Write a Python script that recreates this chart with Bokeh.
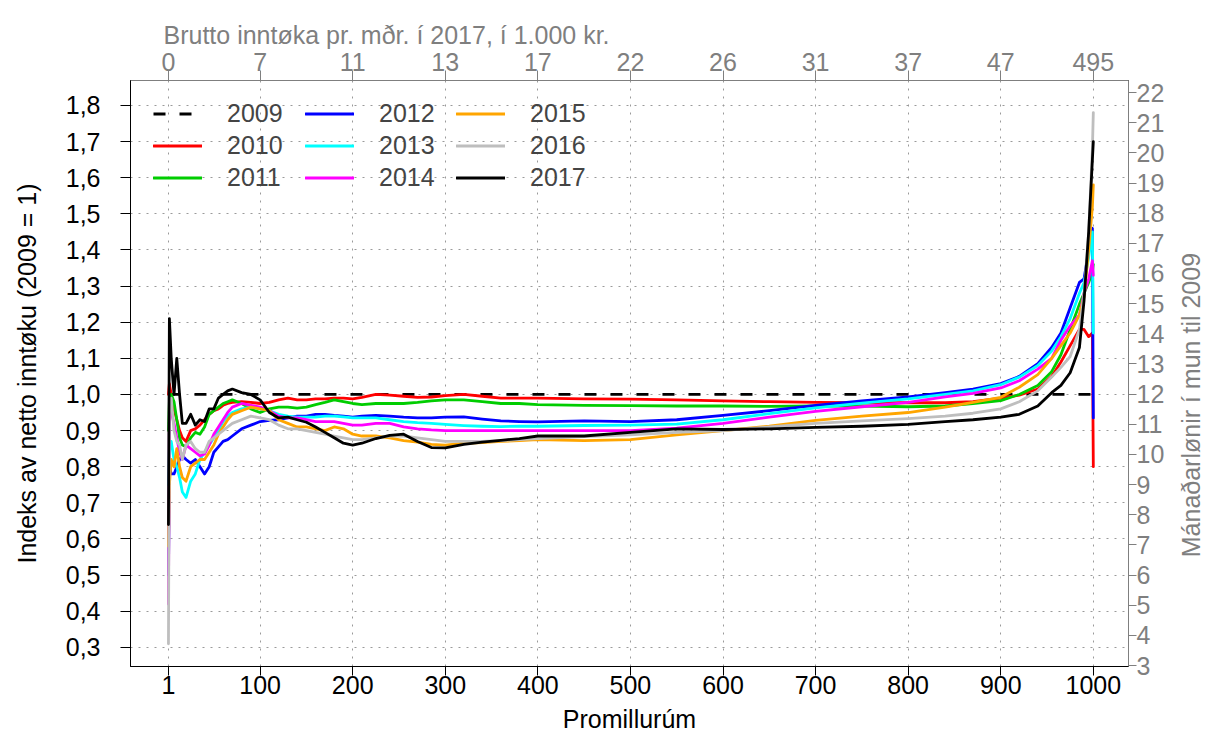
import math
from bokeh.plotting import figure
from bokeh.layouts import row
from bokeh.models import Range1d, LinearAxis, FixedTicker, Legend, LegendItem
from bokeh.embed import file_html
from bokeh.resources import INLINE

# ---------------- data ----------------
promille = [1, 2, 4, 7, 10, 13, 16, 20, 25, 30, 35, 40, 45, 50, 55, 60, 65, 70, 80, 90,
            100, 110, 120, 130, 140, 150, 160, 170, 180, 190, 200, 210, 225, 240, 255,
            270, 285, 300, 320, 340, 360, 380, 400, 450, 500, 550, 600, 650, 700, 750,
            800, 840, 870, 900, 920, 940, 955, 965, 975, 985, 990, 995, 999, 1000]

x2009 = [1, 1000]
y2009 = [1.0, 1.0]

y2010 = [1.0, 1.03, 1.0, 0.96, 0.93, 0.9, 0.88, 0.87, 0.9, 0.905,
         0.915, 0.93, 0.945, 0.955, 0.96, 0.97, 0.975, 0.978, 0.98, 0.978,
         0.975, 0.978, 0.985, 0.99, 0.985, 0.985, 0.988, 0.988, 0.99, 0.99,
         0.988, 0.992, 1.0, 0.998, 0.995, 0.992, 0.993, 0.997, 1.0, 0.995,
         0.99, 0.99, 0.99, 0.988, 0.987, 0.985, 0.982, 0.98, 0.978, 0.977,
         0.977, 0.977, 0.98, 0.99, 0.998, 1.015, 1.05, 1.09, 1.135, 1.18,
         1.18, 1.16, 1.17, 0.80]

y2011 = [0.9, 0.98, 1.0, 0.98, 0.93, 0.88, 0.86, 0.855, 0.88, 0.895,
         0.89, 0.91, 0.945, 0.955, 0.965, 0.975, 0.98, 0.985, 0.975, 0.96,
         0.95, 0.96, 0.965, 0.965, 0.962, 0.965, 0.972, 0.978, 0.985, 0.98,
         0.975, 0.972, 0.975, 0.975, 0.975, 0.978, 0.982, 0.985, 0.985, 0.98,
         0.975, 0.975, 0.972, 0.97, 0.969, 0.968, 0.968, 0.967, 0.968, 0.968,
         0.966, 0.968, 0.975, 0.983, 1.0, 1.025, 1.063, 1.11, 1.18, 1.25,
         1.28, 1.31, 1.34, 1.36]

y2012 = [0.50, 0.80, 0.78, 0.78, 0.80, 0.82, 0.83, 0.82, 0.81, 0.82,
         0.80, 0.78, 0.80, 0.84, 0.855, 0.87, 0.875, 0.885, 0.905, 0.915,
         0.925, 0.928, 0.93, 0.935, 0.94, 0.94, 0.945, 0.945, 0.942, 0.94,
         0.937, 0.94, 0.942, 0.94, 0.937, 0.935, 0.935, 0.937, 0.938, 0.932,
         0.927, 0.925, 0.924, 0.927, 0.925, 0.93, 0.942, 0.955, 0.97, 0.982,
         0.993, 1.005, 1.015, 1.03, 1.05, 1.085, 1.13, 1.17, 1.24, 1.31,
         1.32, 1.40, 1.46, 0.935]

y2013 = [0.75, 0.85, 0.87, 0.82, 0.80, 0.77, 0.73, 0.715, 0.76, 0.78,
         0.82, 0.84, 0.86, 0.88, 0.90, 0.925, 0.94, 0.95, 0.96, 0.965,
         0.96, 0.955, 0.945, 0.94, 0.937, 0.937, 0.937, 0.94, 0.94, 0.938,
         0.935, 0.935, 0.935, 0.93, 0.925, 0.922, 0.92, 0.917, 0.914, 0.912,
         0.911, 0.912, 0.912, 0.914, 0.915, 0.918, 0.93, 0.947, 0.963, 0.976,
         0.988, 1.0, 1.01, 1.027, 1.048, 1.08, 1.12, 1.16, 1.21, 1.28,
         1.31, 1.38, 1.45, 1.17]

y2014 = [0.42, 0.94, 0.95, 0.92, 0.88, 0.84, 0.82, 0.86, 0.85, 0.84,
         0.83, 0.835, 0.86, 0.89, 0.91, 0.93, 0.95, 0.965, 0.975, 0.97,
         0.965, 0.955, 0.94, 0.935, 0.935, 0.93, 0.925, 0.925, 0.925, 0.92,
         0.915, 0.915, 0.92, 0.92, 0.91, 0.905, 0.902, 0.9, 0.9, 0.9,
         0.9, 0.9, 0.9, 0.9, 0.9, 0.907, 0.92, 0.937, 0.953, 0.966,
         0.978, 0.993, 1.003, 1.018, 1.038, 1.07, 1.10, 1.15, 1.19, 1.22,
         1.28, 1.32, 1.37, 1.33]

y2015 = [0.58, 0.75, 0.82, 0.80, 0.85, 0.80, 0.77, 0.76, 0.80, 0.81,
         0.82, 0.82, 0.84, 0.86, 0.89, 0.91, 0.93, 0.945, 0.955, 0.965,
         0.96, 0.955, 0.93, 0.92, 0.91, 0.91, 0.905, 0.90, 0.91, 0.905,
         0.89, 0.885, 0.885, 0.88, 0.872, 0.868, 0.862, 0.86, 0.865, 0.867,
         0.87, 0.872, 0.875, 0.872, 0.875, 0.888, 0.90, 0.912, 0.928, 0.94,
         0.95, 0.965, 0.978, 0.992, 1.02, 1.055, 1.10, 1.135, 1.17, 1.22,
         1.27, 1.40, 1.52, 1.58]

y2016 = [0.31, 0.95, 0.99, 0.90, 0.87, 0.86, 0.82, 0.86, 0.87, 0.85,
         0.84, 0.84, 0.87, 0.88, 0.89, 0.90, 0.91, 0.92, 0.93, 0.94,
         0.935, 0.93, 0.915, 0.905, 0.905, 0.90, 0.895, 0.89, 0.885, 0.88,
         0.875, 0.875, 0.88, 0.885, 0.885, 0.88, 0.875, 0.87, 0.87, 0.87,
         0.872, 0.875, 0.878, 0.883, 0.888, 0.895, 0.90, 0.91, 0.92, 0.927,
         0.933, 0.94, 0.948, 0.96, 0.98, 1.01, 1.048, 1.075, 1.105, 1.18,
         1.28, 1.45, 1.68, 1.78]

y2017 = [0.64, 1.21, 1.10, 1.00, 1.10, 1.00, 0.92, 0.92, 0.945, 0.915,
         0.93, 0.925, 0.96, 0.96, 0.99, 1.0, 1.01, 1.015, 1.005, 1.0,
         0.985, 0.95, 0.935, 0.937, 0.93, 0.923, 0.91, 0.895, 0.88, 0.865,
         0.86, 0.865, 0.878, 0.887, 0.89, 0.87, 0.853, 0.852, 0.862, 0.868,
         0.873, 0.878, 0.885, 0.885, 0.895, 0.905, 0.903, 0.905, 0.909, 0.912,
         0.917, 0.925, 0.93, 0.937, 0.945, 0.968, 1.005, 1.025, 1.06, 1.13,
         1.26, 1.45, 1.65, 1.70]

series_names = ["2010", "2011", "2012", "2013", "2014", "2015", "2016", "2017"]
series_values = [y2010, y2011, y2012, y2013, y2014, y2015, y2016, y2017]
series_colors = ["#FF0000", "#00CD00", "#0000FF", "#00FFFF", "#FF00FF",
                 "#FFA500", "#BEBEBE", "#000000"]

x_ticks = [1, 100, 200, 300, 400, 500, 600, 700, 800, 900, 1000]
x_tick_labels = ["1", "100", "200", "300", "400", "500", "600", "700", "800", "900", "1000"]
top_tick_labels = ["0", "7", "11", "13", "17", "22", "26", "31", "37", "47", "495"]
y_ticks = [0.3, 0.4, 0.5, 0.6, 0.7, 0.8, 0.9, 1.0, 1.1, 1.2, 1.3, 1.4, 1.5, 1.6, 1.7, 1.8]
y_tick_labels = ["0,3", "0,4", "0,5", "0,6", "0,7", "0,8", "0,9", "1,0", "1,1", "1,2",
                 "1,3", "1,4", "1,5", "1,6", "1,7", "1,8"]
right_ticks = [3, 4, 5, 6, 7, 8, 9, 10, 11, 12, 13, 14, 15, 16, 17, 18, 19, 20, 21, 22]
right_title = "Mánaðarlønir í mun til 2009"

# ---------------- figure ----------------
FONT = "Liberation Sans"
FS = "25px"
GRAY = "#7F7F7F"

p = figure(width=1175, height=742, output_backend="svg", toolbar_location=None,
           x_range=Range1d(-40, 1038), y_range=Range1d(0.247, 1.869),
           min_border_left=130, min_border_right=47, min_border_top=80,
           min_border_bottom=76, background_fill_color="white",
           border_fill_color="white")
p.outline_line_color = "black"
p.outline_line_width = 1

p.extra_y_ranges = {"right": Range1d(2.967, 22.40)}

xa = p.below[0]
ya = p.left[0]
xa.ticker = FixedTicker(ticks=x_ticks)
xa.major_label_overrides = dict(zip(x_ticks, x_tick_labels))
ya.ticker = FixedTicker(ticks=y_ticks)
ya.major_label_overrides = dict(zip(y_ticks, y_tick_labels))

for ax in (xa, ya):
    ax.major_label_text_font = FONT
    ax.major_label_text_font_size = FS
    ax.major_label_text_color = "black"
    ax.axis_label_text_font = FONT
    ax.axis_label_text_font_size = FS
    ax.axis_label_text_font_style = "normal"
    ax.axis_label_text_color = "black"
    ax.major_tick_out = 10
    ax.major_tick_in = 0
    ax.minor_tick_line_color = None
    ax.axis_line_color = "black"
    ax.major_tick_line_color = "black"

xa.axis_label = "Promillurúm"
xa.major_tick_out = 9
xa.major_label_standoff = 0
xa.axis_label_standoff = 8
ya.axis_label = "Indeks av netto inntøku (2009 = 1)"
ya.major_label_standoff = 20
ya.axis_label_standoff = 22
ya.major_label_orientation = "horizontal"

top = LinearAxis(ticker=FixedTicker(ticks=x_ticks),
                 major_label_overrides=dict(zip(x_ticks, top_tick_labels)))
right = LinearAxis(y_range_name="right", ticker=FixedTicker(ticks=right_ticks))
for ax in (top, right):
    ax.major_label_text_font = FONT
    ax.major_label_text_font_size = FS
    ax.major_label_text_color = GRAY
    ax.axis_line_color = GRAY
    ax.major_tick_line_color = GRAY
    ax.minor_tick_line_color = None
    ax.major_tick_in = 0
top.major_tick_out = 10
top.major_label_standoff = 0
right.major_tick_out = 8
right.major_label_standoff = 0
p.add_layout(top, "above")
p.add_layout(right, "right")

p.title.text = "Brutto inntøka pr. mðr. í 2017, í 1.000 kr."
p.title.align = "left"
p.title.offset = 33
p.title.standoff = 1
p.title.text_font = FONT
p.title.text_font_size = FS
p.title.text_font_style = "normal"
p.title.text_color = GRAY

p.xgrid.ticker = FixedTicker(ticks=x_ticks)
p.ygrid.ticker = FixedTicker(ticks=y_ticks)
for g in (p.xgrid[0], p.ygrid[0]):
    g.grid_line_color = "#9A9A9A"
    g.grid_line_dash = "2 6"
    g.grid_line_width = 1

# ---------------- lines ----------------
r2009 = p.line(x2009, y2009, line_color="black", line_width=2.8,
               line_dash="12 14", line_cap="butt")
renderers = {"2009": r2009}
for name, vals, col in zip(series_names, series_values, series_colors):
    renderers[name] = p.line(promille, vals, line_color=col, line_width=2.8,
                             line_join="round", line_cap="round")

# ---------------- legend (3 columns) ----------------
cols = [["2009", "2010", "2011"], ["2012", "2013", "2014"], ["2015", "2016", "2017"]]
col_x = [23, 175, 326]
for names, lx in zip(cols, col_x):
    lg = Legend(items=[LegendItem(label=n, renderers=[renderers[n]]) for n in names],
                location=(lx, 474), orientation="vertical",
                label_text_font=FONT, label_text_font_size=FS,
                glyph_width=49, glyph_height=29, label_height=29, spacing=3,
                label_standoff=25, padding=0, margin=0,
                border_line_color=None, background_fill_alpha=0)
    p.add_layout(lg, "center")

# ---------------- right-hand axis title (reads bottom to top) ----------------
q = figure(width=30, height=742, output_backend="svg", toolbar_location=None,
           x_range=Range1d(0, 30), y_range=Range1d(0, 742),
           min_border=0, min_border_left=0, min_border_right=0,
           min_border_top=0, min_border_bottom=0)
q.axis.visible = False
q.grid.visible = False
q.outline_line_color = None
q.background_fill_color = "white"
q.border_fill_color = "white"
q.text(x=[15], y=[331], text=[right_title], angle=math.pi / 2,
       text_align="center", text_baseline="middle",
       text_font={"value": FONT}, text_font_size={"value": FS}, text_color=GRAY)

layout = row(p, q, spacing=0)
open("out.html", "w").write(file_html(layout, INLINE))
